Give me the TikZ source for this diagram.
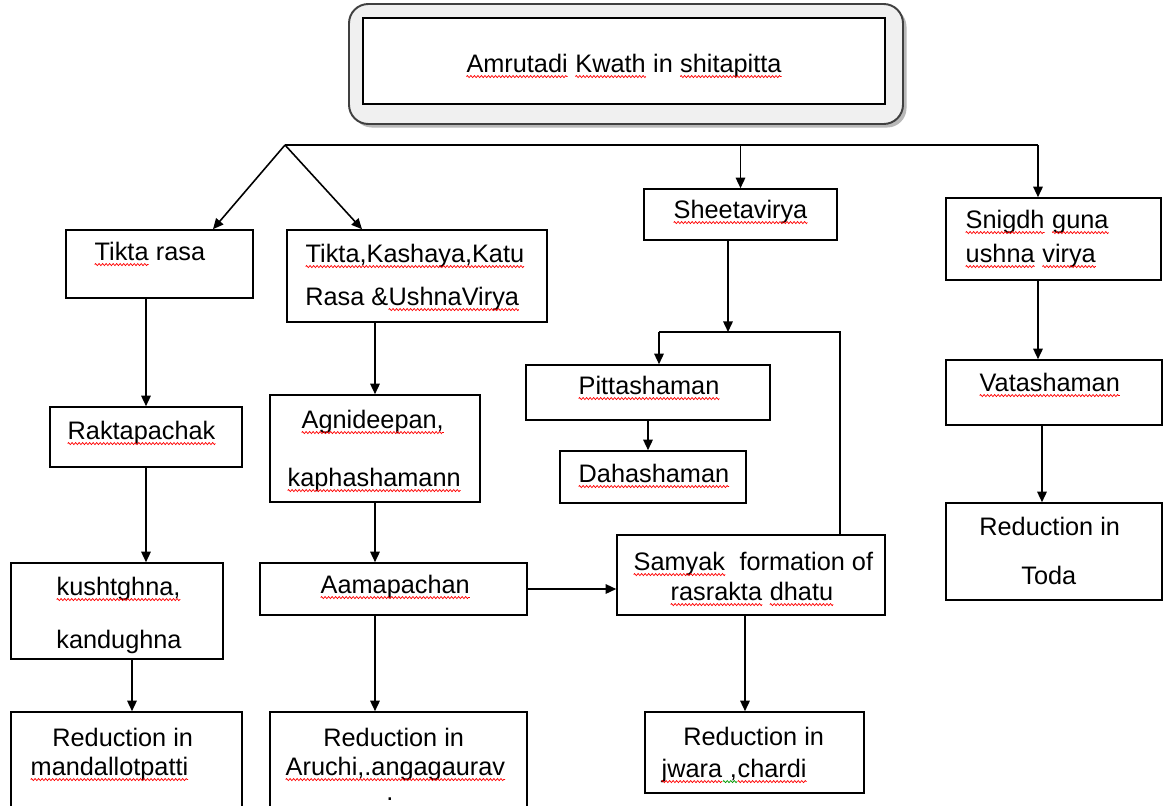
\documentclass[tikz,border=0pt]{standalone}
\usepackage{fontspec}
\setmainfont{Liberation Sans}
\usetikzlibrary{arrows.meta,fit,shadows,decorations.pathmorphing}

% spell-check squiggle under a word
\newcommand{\sq}[2][red]{\tikz[baseline=(sqw.base)]{\node[inner sep=0pt,outer sep=0pt,anchor=base] (sqw) at (0,0) {#2};
  \draw[#1,line width=0.4pt,decorate,decoration={zigzag,amplitude=0.6pt,segment length=2pt}]
    ([yshift=-2.6pt]sqw.base west) -- ([yshift=-2.6pt]sqw.base east);}}

\tikzset{
  box/.style={draw, line width=0.9pt, inner sep=0pt, fill=white},
  txt/.style={inner sep=0pt, font=\fontsize{14.4}{17}\selectfont, anchor=base west},
  ctxt/.style={txt, anchor=base},
  arr/.style={-{Triangle[length=6pt,width=5.4pt]}, line width=0.9pt},
  link/.style={line width=0.9pt}
}

\begin{document}
\begin{tikzpicture}[x=0.02cm,y=-0.02cm]
  \useasboundingbox (0,0) rectangle (1165,805);

  % title
  \node[draw=black!75, line width=1.1pt, fill=black!6, rounded corners=11pt,
        drop shadow={shadow xshift=2pt,shadow yshift=-2pt,fill=black!55},
        inner sep=0pt, fit={(349,4) (903,124)}] (head) {};
  \node[box, fit={(363,18) (885,104)}] (title) {};

  % boxes
  \node[box, fit={(66,230) (253,298)}]   (tikta)  {};
  \node[box, fit={(287,230) (547,322)}]  (tkk)    {};
  \node[box, fit={(644,189) (837,240)}]  (sheeta) {};
  \node[box, fit={(946,198) (1161,280)}] (snigdh) {};
  \node[box, fit={(50,407) (242,467)}]   (rakta)  {};
  \node[box, fit={(270,395) (480,502)}]  (agni)   {};
  \node[box, fit={(526,365) (770,420)}]  (pitta)  {};
  \node[box, fit={(560,451) (746,503)}]  (daha)   {};
  \node[box, fit={(946,360) (1162,425)}] (vata)   {};
  \node[box, fit={(11,563) (223,659)}]   (kusht)  {};
  \node[box, fit={(260,563) (527,615)}]  (aama)   {};
  \node[box, fit={(617,535) (885,615)}]  (samyak) {};
  \node[box, fit={(946,503) (1162,600)}] (toda)   {};
  \node[box, fit={(11,712) (242,812)}]   (redm)   {};
  \node[box, fit={(270,712) (527,812)}]  (reda)   {};
  \node[box, fit={(645,712) (864,793)}]  (redj)   {};

  % texts
  \node[ctxt] (title-t)  at (624,72)  {\sq{Amrutadi} \sq{Kwath} in \sq{shitapitta}};
  \node[txt]  (tikta-t)  at (94,260)  {\sq{Tikta} rasa};
  \node[txt]  (tkk-a)    at (305,262) {\sq{Tikta,Kashaya,Katu}};
  \node[txt]  (tkk-b)    at (305,305) {Rasa \&\sq{UshnaVirya}};
  \node[txt]  (sheeta-t) at (673,218) {\sq{Sheetavirya}};
  \node[txt]  (snigdh-a) at (965,228) {\sq{Snigdh} \sq{guna}};
  \node[txt]  (snigdh-b) at (965,262) {\sq{ushna} \sq{virya}};
  \node[txt]  (rakta-t)  at (67,439)  {\sq{Raktapachak}};
  \node[txt]  (agni-a)   at (301,428) {\sq{Agnideepan,}};
  \node[txt]  (agni-b)   at (287,486) {\sq{kaphashamann}};
  \node[txt]  (pitta-t)  at (578,394) {\sq{Pittashaman}};
  \node[txt]  (daha-t)   at (578,482) {\sq{Dahashaman}};
  \node[txt]  (vata-t)   at (979,391) {\sq{Vatashaman}};
  \node[txt]  (kusht-a)  at (56,595)  {\sq{kushtghna,}};
  \node[txt]  (kusht-b)  at (56,648)  {kandughna};
  \node[txt]  (aama-t)   at (320,593) {\sq{Aamapachan}};
  \node[txt]  (samyak-a) at (633,570) {\sq{Samyak}\ \ formation of};
  \node[txt]  (samyak-b) at (670,600) {\sq{rasrakta} \sq{dhatu}};
  \node[txt]  (toda-a)   at (979,535) {Reduction in};
  \node[txt]  (toda-b)   at (1021,584) {Toda};
  \node[txt]  (redm-a)   at (52,746)  {Reduction in};
  \node[txt]  (redm-b)   at (30,775)  {\sq{mandallotpatti}};
  \node[txt]  (reda-a)   at (323,746) {Reduction in};
  \node[txt]  (reda-b)   at (285,775) {\sq{Aruchi,.angagaurav}};
  \node[txt]  (reda-c)   at (386,800) {.};
  \node[txt]  (redj-a)   at (683,745) {Reduction in};
  \node[txt]  (redj-b)   at (661,777) {\sq{jwara}\sq[green!60!black]{\ ,}\sq{chardi}};

  % connectors
  \coordinate (fork) at (285,145);
  \coordinate (fr)   at (1038,145);
  \coordinate (jl)   at (659,332);
  \coordinate (jn)   at (728,332);
  \coordinate (jr)   at (840,332);

  \draw[link] (fork) -- (fr);
  \draw[arr] (fork) -- ([xshift=1.07cm]tikta.north);
  \draw[arr] (fork) -- ([xshift=-1.1cm]tkk.north);
  \draw[arr] (sheeta.north |- fork) -- (sheeta.north);
  \draw[arr] (fr) -- (fr |- snigdh.north);

  \draw[arr] (rakta.north |- tikta.south) -- (rakta.north);
  \draw[arr] (rakta.south) -- (rakta.south |- kusht.north);
  \draw[arr] ([xshift=0.3cm]kusht.south) -- ([xshift=0.3cm]kusht.south |- redm.north);

  \draw[arr] (agni.north |- tkk.south) -- (agni.north);
  \draw[arr] (agni.south) -- (agni.south |- aama.north);
  \draw[arr] (aama.south -| agni.south) -- (reda.north -| agni.south);
  \draw[arr] (aama.east) -- (samyak.west |- aama.east);

  \draw[arr] (jn |- sheeta.south) -- (jn);
  \draw[link] (jl) -- (jr) -- (jr |- samyak.north);
  \draw[arr] (jl) -- (jl |- pitta.north);
  \draw[arr] (pitta.south) -- (pitta.south |- daha.north);
  \draw[arr] ([xshift=-0.12cm]samyak.south) -- ([xshift=-0.12cm]samyak.south |- redj.north);

  \draw[arr] (fr |- snigdh.south) -- (fr |- vata.north);
  \draw[arr] ([xshift=0.08cm]fr |- vata.south) -- ([xshift=0.08cm]fr |- toda.north);

\end{tikzpicture}
\end{document}
